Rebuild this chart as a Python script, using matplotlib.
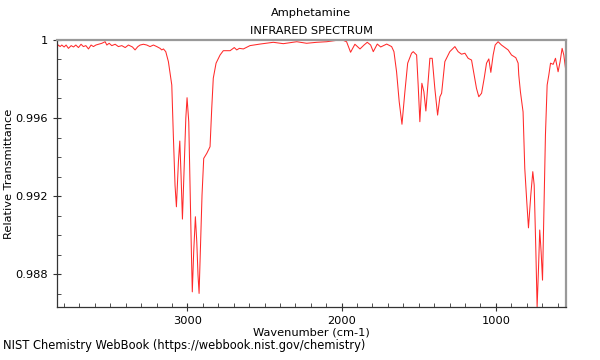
import matplotlib
matplotlib.use("Agg")
import matplotlib.pyplot as plt
from matplotlib.ticker import MultipleLocator

# spectrum (wavenumber in cm-1, relative transmittance)
wavenumber = [
    3846, 3836, 3825, 3814, 3799, 3786, 3771, 3753, 3738, 3723,
    3706, 3689, 3674, 3658, 3641, 3624, 3609, 3593, 3576, 3554,
    3533, 3522, 3507, 3490, 3468, 3447, 3425, 3403, 3382, 3356,
    3339, 3321, 3306, 3285, 3263, 3242, 3220, 3198, 3177, 3166,
    3155, 3140, 3123, 3101, 3091, 3080, 3071, 3058, 3049, 3041,
    3032, 3021, 3010, 3002, 2991, 2983, 2974, 2968, 2959, 2948,
    2939, 2931, 2924, 2916, 2905, 2894, 2874, 2853, 2842, 2832,
    2814, 2788, 2767, 2723, 2696, 2680, 2663, 2637, 2594, 2529,
    2443, 2378, 2291, 2227, 2162, 2097, 2032, 1990, 1968, 1942,
    1914, 1881, 1855, 1834, 1812, 1795, 1769, 1747, 1708, 1676,
    1661, 1644, 1627, 1609, 1590, 1572, 1547, 1536, 1514, 1504,
    1493, 1480, 1467, 1454, 1441, 1428, 1413, 1396, 1378, 1363,
    1352, 1331, 1299, 1266, 1245, 1223, 1201, 1180, 1158, 1141,
    1126, 1111, 1093, 1076, 1061, 1046, 1033, 1018, 1005, 986,
    964, 942, 921, 899, 871, 856, 852, 841, 824, 813,
    800, 789, 774, 761, 752, 741, 733, 724, 716, 707,
    698, 690, 679, 668, 657, 646, 629, 614, 597, 584,
    571, 560, 549,
]
transmittance = [
    0.99961, 0.99974, 0.99966, 0.99974, 0.99964, 0.99974, 0.99957, 0.99971, 0.99964, 0.99974,
    0.99961, 0.99978, 0.99966, 0.99971, 0.99954, 0.99974, 0.99966, 0.99974, 0.99978, 0.99983,
    0.99991, 0.99974, 0.99983, 0.99971, 0.99978, 0.99966, 0.99971, 0.99961, 0.99974, 0.99964,
    0.99949, 0.99966, 0.99974, 0.99978, 0.99974, 0.99966, 0.99974, 0.99966, 0.99957, 0.99949,
    0.99954, 0.99940, 0.99889, 0.99769, 0.99513, 0.99256, 0.99145, 0.99376, 0.99482, 0.99308,
    0.99082, 0.99344, 0.99600, 0.99704, 0.99581, 0.99256, 0.98914, 0.98709, 0.98914, 0.99094,
    0.98966, 0.98795, 0.98701, 0.98914, 0.99205, 0.99393, 0.99419, 0.99453, 0.99650, 0.99804,
    0.99881, 0.99923, 0.99945, 0.99945, 0.99961, 0.99949, 0.99957, 0.99954, 0.99971, 0.99979,
    0.99988, 0.99981, 0.99991, 0.99983, 0.99988, 0.99991, 0.99998, 0.99998, 0.99991, 0.99937,
    0.99978, 0.99954, 0.99974, 0.99988, 0.99974, 0.99940, 0.99979, 0.99964, 0.99979, 0.99966,
    0.99940, 0.99837, 0.99684, 0.99568, 0.99735, 0.99881, 0.99932, 0.99940, 0.99923, 0.99769,
    0.99581, 0.99778, 0.99735, 0.99636, 0.99769, 0.99906, 0.99906, 0.99752, 0.99615, 0.99709,
    0.99727, 0.99889, 0.99940, 0.99966, 0.99940, 0.99927, 0.99932, 0.99906, 0.99897, 0.99821,
    0.99752, 0.99709, 0.99727, 0.99804, 0.99881, 0.99903, 0.99834, 0.99923, 0.99974, 0.99991,
    0.99974, 0.99961, 0.99949, 0.99923, 0.99909, 0.99881, 0.99821, 0.99733, 0.99631, 0.99342,
    0.99171, 0.99037, 0.99205, 0.99325, 0.99256, 0.98914, 0.98631, 0.98829, 0.99026, 0.98914,
    0.98769, 0.99086, 0.99513, 0.99769, 0.99821, 0.99881, 0.99875, 0.99906, 0.99837, 0.99889,
    0.99957, 0.99923, 0.99855,
]

x_ticks = [3000, 2000, 1000]
y_ticks = [0.988, 0.992, 0.996, 1.0]
y_labels = ["0.988", "0.992", "0.996", "1"]

fig = plt.figure(figsize=(6, 3.6), dpi=100)
ax = fig.add_axes([0.095, 0.147, 0.8475, 0.742])

ax.plot(wavenumber, transmittance, color="#ff2a2a", lw=0.75)

ax.set_xlim(3845, 549)
ax.set_ylim(0.98631, 1.0)
ax.set_xticks(x_ticks)
ax.set_xticklabels([str(t) for t in x_ticks])
ax.set_yticks(y_ticks)
ax.set_yticklabels(y_labels)
ax.xaxis.set_minor_locator(MultipleLocator(100))
ax.yaxis.set_minor_locator(MultipleLocator(0.001))

ax.tick_params(which="major", direction="inout", length=6, width=0.8,
               labelsize=8.2, color="#333333")
ax.tick_params(which="minor", direction="in", length=3, width=0.6, color="#333333")
ax.tick_params(top=False, right=False, which="both")

for side in ["top", "right"]:
    ax.spines[side].set_color("#999999")
    ax.spines[side].set_linewidth(1.6)
for side in ["left", "bottom"]:
    ax.spines[side].set_color("#333333")
    ax.spines[side].set_linewidth(0.9)

ax.set_xlabel("Wavenumber (cm-1)", fontsize=8.2, labelpad=1)
ax.set_ylabel("Relative Transmittance", fontsize=8.2, labelpad=1)
ax.set_title("Amphetamine\nINFRARED SPECTRUM", fontsize=8.2, pad=4, linespacing=2.05)

fig.text(0.005, 0.022, "NIST Chemistry WebBook (https://webbook.nist.gov/chemistry)",
         fontsize=8.3, ha="left", va="bottom")

fig.savefig("out.png", dpi=100)
